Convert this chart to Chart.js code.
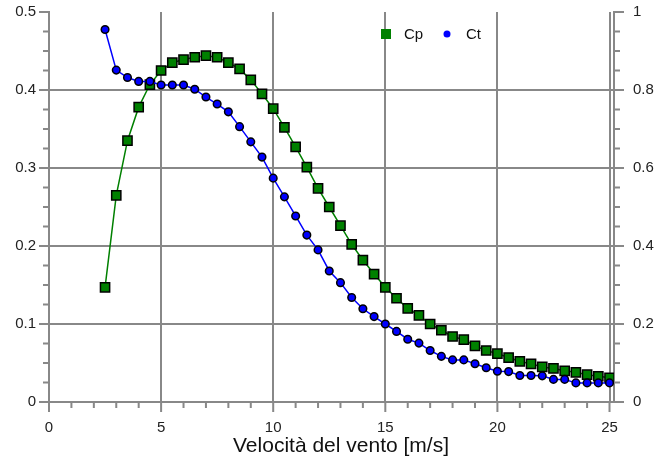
<!DOCTYPE html>
<html>
<head>
<meta charset="utf-8">
<script src="https://cdn.jsdelivr.net/npm/chart.js@4.4.0/dist/chart.umd.min.js"></script>
<style>
  html, body { margin: 0; padding: 0; background: #fff; }
</style>
</head>
<body>
<canvas id="powerChart" width="672" height="459"></canvas>
<script>
// wind speed [m/s]
const windSpeed = [2.5, 3, 3.5, 4, 4.5, 5, 5.5, 6, 6.5, 7, 7.5, 8, 8.5, 9, 9.5, 10,
  10.5, 11, 11.5, 12, 12.5, 13, 13.5, 14, 14.5, 15, 15.5, 16, 16.5, 17, 17.5, 18,
  18.5, 19, 19.5, 20, 20.5, 21, 21.5, 22, 22.5, 23, 23.5, 24, 24.5, 25];

// power coefficient (left axis)
const cp = [0.147, 0.265, 0.335, 0.378, 0.407, 0.425, 0.435, 0.439, 0.442, 0.444,
  0.442, 0.435, 0.427, 0.413, 0.395, 0.376, 0.352, 0.327, 0.301, 0.274, 0.250,
  0.226, 0.202, 0.182, 0.164, 0.147, 0.133, 0.120, 0.111, 0.100, 0.092, 0.084,
  0.080, 0.072, 0.066, 0.062, 0.057, 0.052, 0.049, 0.045, 0.043, 0.040, 0.038,
  0.035, 0.033, 0.031];

// thrust coefficient (right axis)
const ct = [0.955, 0.851, 0.832, 0.822, 0.822, 0.813, 0.813, 0.813, 0.802, 0.782,
  0.764, 0.744, 0.706, 0.667, 0.628, 0.574, 0.526, 0.477, 0.428, 0.390, 0.336,
  0.306, 0.268, 0.239, 0.219, 0.200, 0.181, 0.161, 0.151, 0.132, 0.117, 0.108,
  0.108, 0.098, 0.088, 0.079, 0.078, 0.068, 0.068, 0.067, 0.058, 0.058, 0.049,
  0.049, 0.049, 0.049];

const xTicks = [0, 5, 10, 15, 20, 25];
const leftTicks = [0, 0.1, 0.2, 0.3, 0.4, 0.5];
const rightTicks = [0, 0.2, 0.4, 0.6, 0.8, 1];

const axisGray = "#888888";
const fontFamily = "'Liberation Sans', Arial, sans-serif";

// no extra room for end labels, the layout is fixed by hand
function noPad(s) {
  s.paddingTop = 0;
  s.paddingBottom = 0;
  s.paddingLeft = 0;
  s.paddingRight = 0;
}

// small ticks outside the plot + axis title + legend
const extras = {
  id: "extras",
  afterDraw(chart) {
    const { ctx, chartArea: a, scales } = chart;
    ctx.save();
    ctx.strokeStyle = axisGray;
    ctx.lineWidth = 2;
    ctx.beginPath();
    for (let i = 0; i <= 25; i++) {
      const px = scales.x.getPixelForValue(i);
      const len = i % 5 === 0 ? 10 : 6;
      ctx.moveTo(px, a.bottom);
      ctx.lineTo(px, a.bottom + len);
    }
    for (let k = 0; k <= 20; k++) {
      const py = scales.y.getPixelForValue(k * 0.025);
      const len = k % 4 === 0 ? 10 : 6;
      ctx.moveTo(a.left, py);
      ctx.lineTo(a.left - len, py);
      const py2 = scales.y2.getPixelForValue(k * 0.05);
      ctx.moveTo(a.right, py2);
      ctx.lineTo(a.right + len, py2);
    }
    ctx.stroke();

    // axis title
    ctx.fillStyle = "#111";
    ctx.font = "21px " + fontFamily;
    ctx.textAlign = "center";
    ctx.textBaseline = "middle";
    ctx.fillText("Velocità del vento [m/s]", 341, 446);

    // legend
    ctx.font = "15px " + fontFamily;
    ctx.textAlign = "left";
    ctx.fillStyle = "#008000";
    ctx.fillRect(381, 29, 10, 10);
    ctx.fillStyle = "#111";
    ctx.fillText("Cp", 404, 35);
    ctx.fillStyle = "#0000ff";
    ctx.beginPath();
    ctx.arc(447, 34, 3.5, 0, Math.PI * 2);
    ctx.fill();
    ctx.fillStyle = "#111";
    ctx.fillText("Ct", 466, 35);
    ctx.restore();
  }
};

const ctx = document.getElementById("powerChart").getContext("2d");

new Chart(ctx, {
  type: "line",
  data: {
    datasets: [
      {
        label: "Cp",
        data: windSpeed.map((v, i) => ({ x: v, y: cp[i] })),
        yAxisID: "y",
        borderColor: "#008000",
        borderWidth: 1.5,
        pointStyle: "rect",
        pointRadius: 6.5,
        pointBackgroundColor: "#008000",
        pointBorderColor: "#000",
        pointBorderWidth: 1.5,
        order: 1
      },
      {
        label: "Ct",
        data: windSpeed.map((v, i) => ({ x: v, y: ct[i] })),
        yAxisID: "y2",
        borderColor: "#0000ff",
        borderWidth: 1.5,
        pointStyle: "circle",
        pointRadius: 3.8,
        pointBackgroundColor: "#0000ff",
        pointBorderColor: "#000",
        pointBorderWidth: 1.5,
        order: 0
      }
    ]
  },
  options: {
    responsive: false,
    animation: false,
    layout: { padding: { top: 12, left: 0, right: 0, bottom: 0 } },
    plugins: { legend: { display: false }, tooltip: { enabled: false } },
    scales: {
      x: {
        type: "linear",
        min: 0,
        max: 25.2,
        afterBuildTicks: (s) => { s.ticks = xTicks.map((v) => ({ value: v })); },
        afterFit: (s) => { s.height = 57; noPad(s); },
        grid: {
          color: (c) => (c.tick && c.tick.value === 0 ? "transparent" : axisGray),
          lineWidth: 2,
          drawTicks: false
        },
        border: { color: axisGray, width: 2 },
        ticks: { padding: 17, color: "#222", font: { family: fontFamily, size: 15 } }
      },
      y: {
        position: "left",
        min: 0,
        max: 0.5,
        afterBuildTicks: (s) => { s.ticks = leftTicks.map((v) => ({ value: v })); },
        afterFit: (s) => { s.width = 49; noPad(s); },
        grid: {
          color: (c) => (c.tick && (c.tick.value === 0 || c.tick.value === 0.5) ? "transparent" : axisGray),
          lineWidth: 2,
          drawTicks: false
        },
        border: { color: axisGray, width: 2 },
        ticks: {
          padding: 13,
          color: "#222",
          font: { family: fontFamily, size: 15 },
          callback: (v) => (v === 0 ? "0" : v.toFixed(1))
        }
      },
      y2: {
        position: "right",
        min: 0,
        max: 1,
        afterBuildTicks: (s) => { s.ticks = rightTicks.map((v) => ({ value: v })); },
        afterFit: (s) => { s.width = 58; noPad(s); },
        grid: { drawOnChartArea: false, drawTicks: false },
        border: { color: axisGray, width: 2 },
        ticks: {
          padding: 19,
          color: "#222",
          font: { family: fontFamily, size: 15 },
          callback: (v) => (v === 0 || v === 1 ? String(v) : v.toFixed(1))
        }
      }
    }
  },
  plugins: [extras]
});
</script>
</body>
</html>
